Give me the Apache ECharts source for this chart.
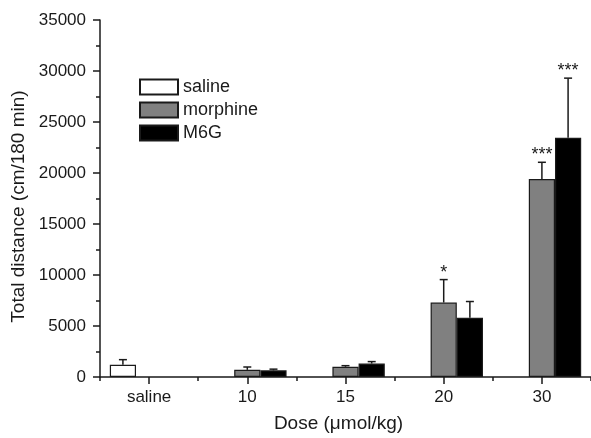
<!DOCTYPE html>
<html>
<head>
<meta charset="utf-8">
<script src="https://cdn.jsdelivr.net/npm/echarts@6/dist/echarts.min.js"></script>
<style>
html,body{margin:0;padding:0;background:#fff;}
#chart{width:591px;height:438px;}
</style>
</head>
<body>
<div id="chart"></div>
<script>
// ---- data ----
var categories = ['saline', '10', '15', '20', '30'];
var salineValues   = [1200, '-', '-', '-', '-'];
var morphineValues = ['-', 700, 1000, 7300, 19400];
var m6gValues      = ['-', 650, 1320, 5800, 23450];
var salineErr   = [500, null, null, null, null];
var morphineErr = [null, 280, 110, 2250, 1650];
var m6gErr      = [null, 120, 190, 1600, 5850];
var morphineSig = ['', '', '', '*', '***'];
var m6gSig      = ['', '', '', '', '***'];
var yTicks = [0, 5000, 10000, 15000, 20000, 25000, 30000, 35000];

// ---- build error bar rows ----
var errRows = [];
var sigRows = [];
function addRows(vals, errs, sigs, g) {
  for (var i = 0; i < categories.length; i++) {
    if (vals[i] !== '-' && errs[i] != null) {
      errRows.push([i, vals[i], errs[i], g]);
      sigRows.push(sigs ? sigs[i] : '');
    }
  }
}
addRows(salineValues, salineErr, null, 0);
addRows(morphineValues, morphineErr, morphineSig, 1);
addRows(m6gValues, m6gErr, m6gSig, 2);

var FONT = 'Liberation Sans, Arial, Helvetica, sans-serif';
var INK = '#1a1a1a';
var chart = echarts.init(document.getElementById('chart'), null, {renderer: 'canvas'});

var barBorder = {borderColor: INK, borderWidth: 1.2};

chart.setOption({
  animation: false,
  backgroundColor: '#fff',
  grid: {left: 100, right: 0, top: 20, bottom: 56.5, containLabel: false},
  legend: {
    data: ['saline', 'morphine', 'M6G'],
    orient: 'vertical',
    left: 139, top: 78, padding: 0,
    itemWidth: 38, itemHeight: 15, itemGap: 5,
    icon: 'rect',
    textStyle: {fontFamily: FONT, fontSize: 18, color: INK}
  },
  xAxis: [{
    type: 'category',
    data: categories,
    position: 'bottom',
    name: 'Dose (\u03bcmol/kg)',
    nameLocation: 'middle',
    nameGap: 37,
    nameTextStyle: {fontFamily: FONT, fontSize: 19, color: INK, padding: [0, 14, 0, 0]},
    axisLine: {show: true, lineStyle: {color: INK, width: 1.5}},
    axisTick: {show: true, alignWithLabel: true, length: 7, lineStyle: {color: INK, width: 1.5}},
    axisLabel: {fontFamily: FONT, fontSize: 17, color: INK, margin: 12},
    splitLine: {show: false}
  }, {
    type: 'category',
    data: categories,
    position: 'bottom',
    offset: 0,
    axisLine: {show: false},
    axisTick: {show: true, alignWithLabel: false, length: 4, lineStyle: {color: INK, width: 1.5}},
    axisLabel: {show: false},
    splitLine: {show: false}
  }],
  yAxis: {
    type: 'value',
    min: 0, max: 35000, interval: 5000,
    name: 'Total distance (cm/180 min)',
    nameLocation: 'middle',
    nameGap: 70,
    nameTextStyle: {fontFamily: FONT, fontSize: 19, color: INK, padding: [0, 16, 0, 0]},
    axisLine: {show: true, lineStyle: {color: INK, width: 1.5}},
    axisTick: {show: true, length: 7, lineStyle: {color: INK, width: 1.5}},
    minorTick: {show: true, splitNumber: 2, length: 4, lineStyle: {color: INK, width: 1.5}},
    axisLabel: {fontFamily: FONT, fontSize: 17, color: INK, margin: 14,
      formatter: function (v) { return yTicks.indexOf(v) >= 0 ? String(v) : ''; }},
    splitLine: {show: false}
  },
  series: [{
    name: 'saline', type: 'bar', data: salineValues,
    barGap: '0%', barCategoryGap: '20%',
    itemStyle: Object.assign({color: '#ffffff'}, barBorder)
  }, {
    name: 'morphine', type: 'bar', data: morphineValues,
    barGap: '0%', barCategoryGap: '20%',
    itemStyle: Object.assign({color: '#808080'}, barBorder)
  }, {
    name: 'M6G', type: 'bar', data: m6gValues,
    barGap: '0%', barCategoryGap: '20%',
    itemStyle: Object.assign({color: '#000000'}, barBorder)
  }, {
    name: 'err', type: 'custom', data: errRows, z: 5,
    renderItem: function (params, api) {
      var cat = api.value(0), val = api.value(1), err = api.value(2), g = api.value(3);
      var catW = api.size([1, 0])[0];
      var bw = catW * 0.8 / 3;
      var p0 = api.coord([cat, val]);
      var p1 = api.coord([cat, val + err]);
      var x = p0[0] + (g - 1) * bw;
      var style = {stroke: INK, lineWidth: 1.5};
      var children = [
        {type: 'line', shape: {x1: x, y1: p0[1], x2: x, y2: p1[1]}, style: style},
        {type: 'line', shape: {x1: x - 4, y1: p1[1], x2: x + 4, y2: p1[1]}, style: style}
      ];
      var sig = sigRows[params.dataIndex];
      if (sig) {
        children.push({type: 'text', style: {
          text: sig, x: x, y: p1[1] - 7, align: 'center', verticalAlign: 'middle',
          fontFamily: FONT, fontSize: 18, fill: INK
        }});
      }
      return {type: 'group', children: children};
    }
  }]
});
</script>
</body>
</html>
